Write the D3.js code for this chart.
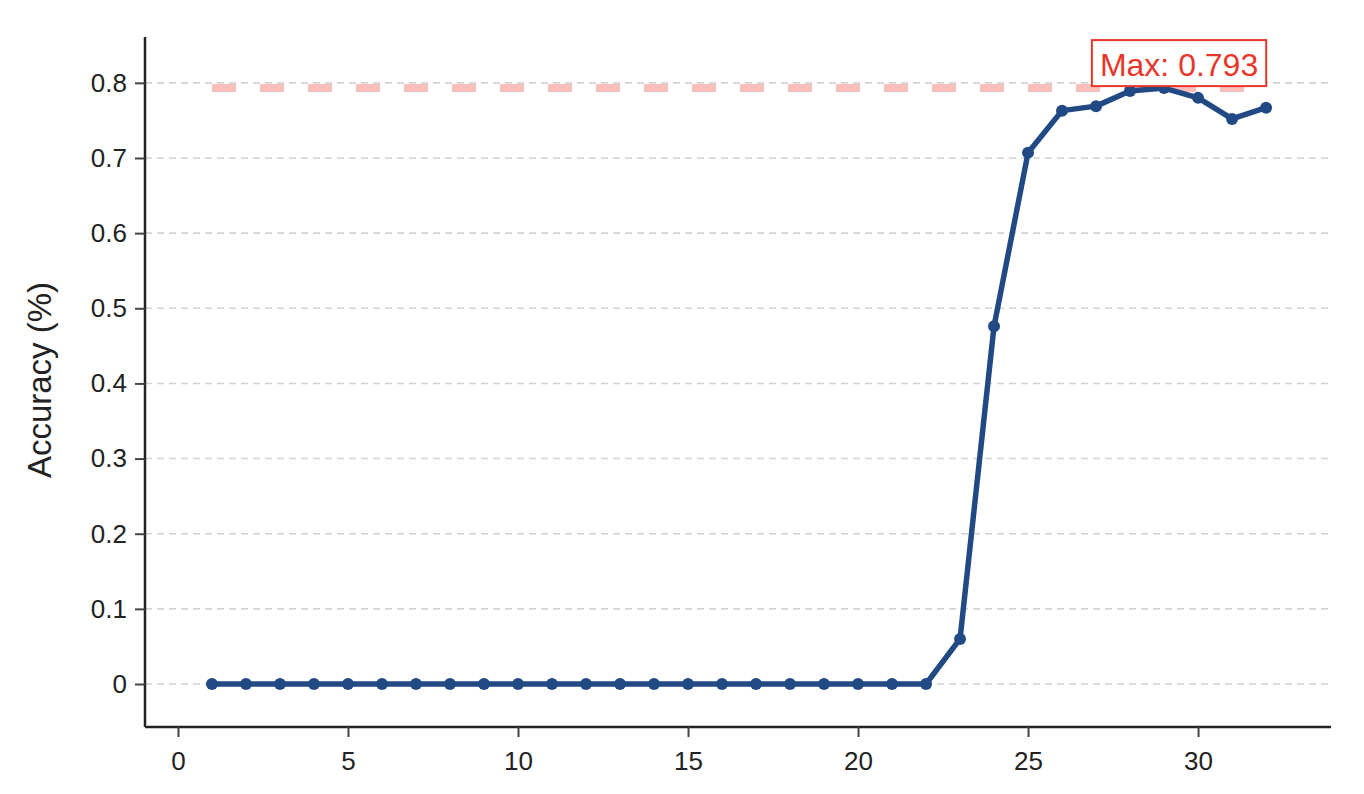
<!DOCTYPE html>
<html><head><meta charset="utf-8">
<script src="https://cdn.jsdelivr.net/npm/d3@7"></script>
<style>body{margin:0;background:#fff;}svg{display:block;font-family:"Liberation Sans",Arial,Helvetica,sans-serif;}</style>
</head><body><svg id="c" width="1364" height="794"></svg>
<script>
const layers = [1,2,3,4,5,6,7,8,9,10,11,12,13,14,15,16,17,18,19,20,21,22,23,24,25,26,27,28,29,30,31,32];
const accuracy = [0,0,0,0,0,0,0,0,0,0,0,0,0,0,0,0,0,0,0,0,0,0,0.060,0.476,0.707,0.763,0.769,0.789,0.793,0.780,0.752,0.767];
const xTicks = [0,5,10,15,20,25,30];
const yTicks = [0,0.1,0.2,0.3,0.4,0.5,0.6,0.7,0.8];
const yLabel = "Accuracy (%)";

const svg = d3.select("#c");
const L=145, R=1331, T=37, B=727;
const x = d3.scaleLinear().domain([-0.97,33.91]).range([L,R]);
const y = d3.scaleLinear().domain([-0.0572,0.861]).range([B,T]);
const FONT = "'Liberation Sans',Arial,sans-serif";

// grid
svg.append("g").selectAll("line").data(yTicks).join("line")
  .attr("x1",L).attr("x2",R-3).attr("y1",d=>y(d)).attr("y2",d=>y(d))
  .attr("stroke","#d2d2d2").attr("stroke-width",1.6).attr("stroke-dasharray","7,5");

// max line
const maxV = d3.max(accuracy);
const maxI = accuracy.indexOf(maxV);
svg.append("line").attr("x1",x(layers[0])).attr("x2",x(layers[layers.length-1]))
  .attr("y1",y(maxV)).attr("y2",y(maxV))
  .attr("stroke","#f8bfbb").attr("stroke-width",8).attr("stroke-dasharray","24,24");

// line
const line = d3.line().x((d,i)=>x(layers[i])).y(d=>y(d));
svg.append("path").datum(accuracy).attr("d",line).attr("fill","none")
  .attr("stroke","#214a85").attr("stroke-width",5.5).attr("stroke-linejoin","round");
svg.append("g").selectAll("circle").data(accuracy).join("circle")
  .attr("cx",(d,i)=>x(layers[i])).attr("cy",d=>y(d)).attr("r",6).attr("fill","#214a85");

// axes
const xa = svg.append("g").attr("transform",`translate(0,${B})`)
  .call(d3.axisBottom(x).tickValues(xTicks).tickSize(10).tickPadding(15).tickSizeOuter(0));
const ya = svg.append("g").attr("transform",`translate(${L},0)`)
  .call(d3.axisLeft(y).tickValues(yTicks).tickSize(10).tickPadding(8).tickSizeOuter(0).tickFormat(d=>d===0?"0":d3.format(".1f")(d)));
[xa,ya].forEach(a=>{
  a.select(".domain").attr("stroke","#222").attr("stroke-width",2.5);
  a.selectAll(".tick line").attr("stroke","#444").attr("stroke-width",2);
  a.selectAll(".tick text").attr("font-size",26).attr("fill","#222").attr("font-family",FONT);
});
xa.select(".domain").attr("d",`M${L},0H${R}`);
ya.select(".domain").attr("d",`M0,${T}V${B}`);

svg.append("text").attr("transform",`translate(51,380) rotate(-90)`)
  .attr("text-anchor","middle").attr("font-size",33).attr("fill","#222").attr("font-family",FONT).text(yLabel);

// annotation
const lab = svg.append("g");
const txt = lab.append("text").attr("x",x(layers[maxI])+15).attr("y",y(maxV)-12)
  .attr("text-anchor","middle").attr("font-size",32).attr("fill","#e8362b").attr("font-family",FONT)
  .text("Max: " + maxV.toFixed(3));
const bb = txt.node().getBBox();
lab.insert("rect","text").attr("x",bb.x-8).attr("y",bb.y-7).attr("width",bb.width+16).attr("height",bb.height+10)
  .attr("fill","#fff").attr("stroke","#e8362b").attr("stroke-width",2);
</script></body></html>
